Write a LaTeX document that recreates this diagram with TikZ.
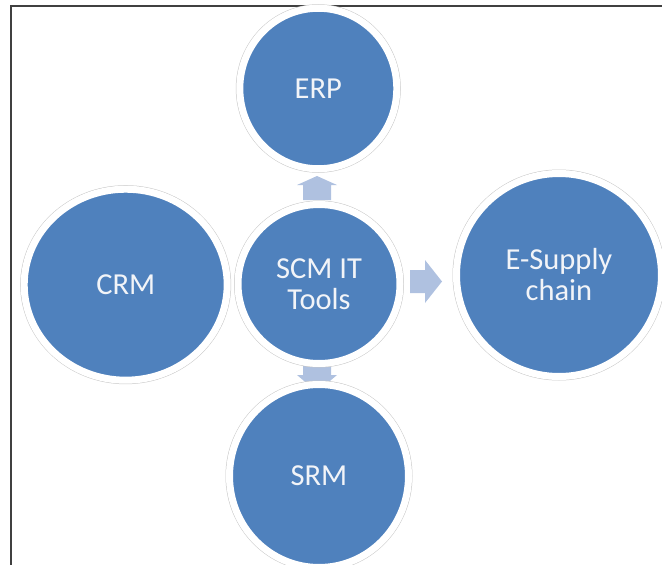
\documentclass[tikz,border=0pt]{standalone}
\usepackage{fontspec}
\setmainfont{Carlito}
\usetikzlibrary{shapes.geometric}
\definecolor{bubble}{HTML}{4F81BD}
\definecolor{blockarrow}{HTML}{AFC1E0}
\definecolor{framegray}{HTML}{404040}
\definecolor{bubbletext}{HTML}{F2F4F8}
\tikzset{
  bubble/.style={ellipse, fill=bubble, draw=white, line width=7pt,
    preaction={draw=black!22, line width=8pt},
    text=bubbletext, align=center, inner sep=0pt,
    font=\fontsize{30.5}{31}\selectfont},
  blockarr/.style={fill=blockarrow, draw=none}
}
\begin{document}
\begin{tikzpicture}[x=1pt,y=-1pt]
\useasboundingbox (0,0) rectangle (662,565);
% frame
\draw[framegray, line width=1.8pt] (10.7,566) -- (10.7,6.3) -- (663,6.3);
% block arrows
\draw[blockarr] (303,200) -- (303,185) -- (297,185) -- (317,176) -- (337,185) -- (331,185) -- (331,200) -- cycle;
\draw[blockarr] (303,355) -- (303,375) -- (297,375) -- (317,392) -- (337,375) -- (331,375) -- (331,355) -- cycle;
\draw[blockarr] (410,270) -- (425,270) -- (425,260) -- (442,281.5) -- (425,303) -- (425,293) -- (410,293) -- cycle;
% bubbles
\node[bubble, minimum width=157pt, minimum height=160.5pt] (erp) at (318.3,88.5) {ERP};
\node[bubble, minimum width=162pt, minimum height=159pt] (scm) at (319,284) {SCM IT\\Tools};
\node[bubble, minimum width=203pt, minimum height=191pt] (crm) at (125.7,284.7) {CRM};
\node[bubble, minimum width=205pt, minimum height=203pt] (esc) at (559,275) {E-Supply\\chain};
\node[bubble, minimum width=179pt, minimum height=183pt] (srm) at (319,476) {SRM};
\end{tikzpicture}
\end{document}
